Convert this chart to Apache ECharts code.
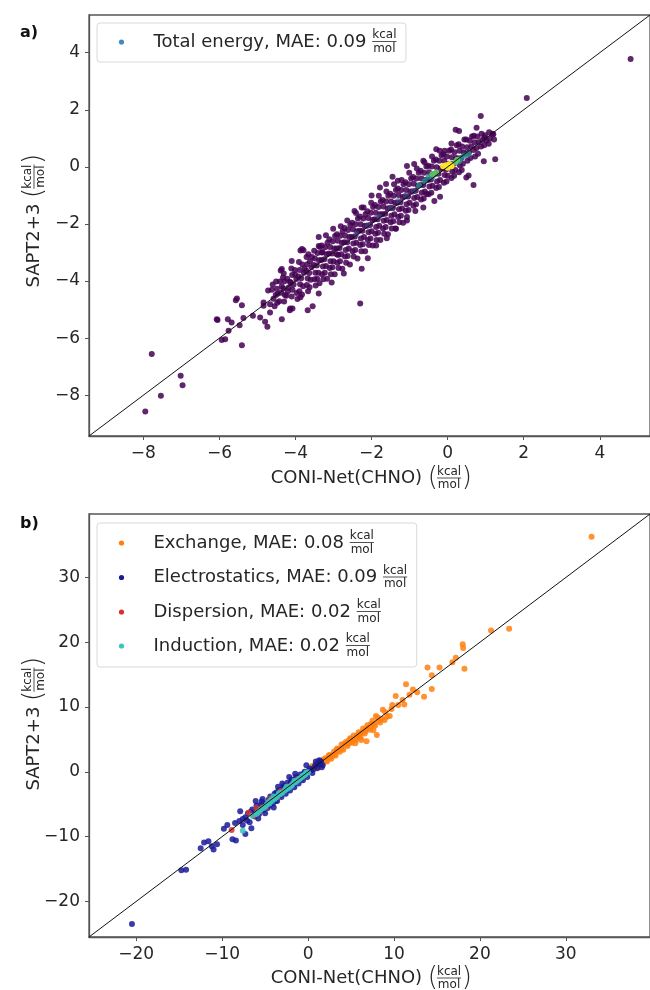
<!DOCTYPE html>
<html>
<head>
<meta charset="utf-8">
<script src="https://cdn.jsdelivr.net/npm/echarts@6.0.0/dist/echarts.min.js"></script>
<style>
  html, body { margin: 0; padding: 0; background: #fff; }
  #chart { width: 650px; height: 990px; }
</style>
</head>
<body>
<div id="chart"></div>
<script>
// axis limits and ticks
var limA = [-9.43, 5.32];
var ticksA = [-8, -6, -4, -2, 0, 2, 4];
var limB = [-25.5, 39.8];
var ticksB = [-20, -10, 0, 10, 20, 30];

var totalLabel = 'Total energy, MAE: 0.09';
var compLabels = ['Exchange, MAE: 0.08', 'Electrostatics, MAE: 0.09', 'Dispersion, MAE: 0.02', 'Induction, MAE: 0.02'];
var compColors = ['#ff7f0e', '#1a1a96', '#dc2f2f', '#3cc4b8'];

// panel a) total energy, [CONI-Net, SAPT2+3]
var totalOutliers = [[4.81,3.78],[2.08,2.41],[0.87,1.78],[-7.78,-6.56],[-7.02,-7.32],[-6.97,-7.65],[-7.54,-8.02],[-7.95,-8.57],
  [-6.07,-5.34],[-5.54,-4.61],[-5.41,-4.85],[-5.78,-5.34],[-5.68,-5.45],[-5.47,-5.55],[-5.76,-5.74],[-5.94,-6.07],[-5.85,-6.04],
  [-5.41,-6.25],[-5.37,-5.3],[-5.12,-5.22],[-4.93,-5.28],[-4.8,-5.43],[-4.74,-5.6],[-4.84,-4.87],[-4.84,-4.75],[-4.67,-4.81],
  [-4.67,-5.1],[-4.36,-5.34],[-4.36,-3.58],[-4.14,-4.96],[-4.08,-4.96],[-2.3,-4.79],[1.25,0.27],[0.68,-0.64],[0.49,-0.37],
  [0.3,1.26],[0.21,1.3],[0.76,1.37],[0.97,1.02],[1.2,1.14],[-3.83,-2.88],[-3.66,-3.06],[-3.39,-2.77],[-3.31,-3.0],[-2.92,-3.06],
  [-1.78,-0.72],[-1.62,-0.6],[-1.31,-0.49],[-1.07,0.03],[-0.88,0.1],[-0.64,0.21],[-0.08,0.56],[-0.3,0.62],[0.1,0.82],
  [-0.55,-0.95],[-0.64,-1.42],[-0.85,-1.55],[-1.07,-1.88],[-1.36,-2.17],[-1.6,-2.5],[-1.88,-2.76],[-2.1,-3.2],[-2.26,-3.57],
  [-2.73,-3.74],[-3.05,-4.05],[-3.39,-4.44],[-3.68,-5.02],[-4.15,-5.02],[-2.26,-1.42],[-2.45,-1.55],[-2.64,-1.88],
  [-3.01,-2.17],[-3.2,-2.4],[-3.39,-2.46],[-3.87,-2.93],[-4.1,-3.3],[-4.39,-3.63],[-4.72,-4.33],[-5.57,-4.67],[-6.05,-5.37],
  [-2.0,-1.0],[-1.45,-0.35],[0.55,-0.3],[0.95,0.2],[-0.2,-1.05],[-0.35,-1.2]];
var totalBand = [
  [-4.62,-4.31],[-4.58,-4.62],[-4.55,-4.88],[-4.6,-4.12],[-4.47,-4.45],[-4.41,-4.02],[-4.38,-4.41],[-4.43,-4.71],[-4.36,-4.19],[-4.33,-3.88],
  [-4.22,-3.92],[-4.18,-4.23],[-4.24,-4.52],[-4.15,-4.03],[-4.2,-4.36],[-4.02,-3.61],[-3.98,-3.93],[-4.05,-4.12],[-3.97,-4.42],[-4.01,-3.77],[-3.95,-4.63],
  [-3.82,-3.42],[-3.78,-3.71],[-3.85,-3.9],[-3.8,-4.18],[-3.76,-3.56],[-3.83,-4.47],[-3.79,-2.92],
  [-3.62,-3.31],[-3.58,-3.52],[-3.64,-3.72],[-3.6,-3.96],[-3.57,-3.16],[-3.63,-4.22],[-3.55,-4.88],
  [-3.42,-3.02],[-3.38,-3.27],[-3.44,-3.46],[-3.4,-3.71],[-3.36,-2.81],[-3.43,-3.92],[-3.37,-4.08],
  [-3.22,-2.82],[-3.18,-3.06],[-3.24,-3.24],[-3.2,-3.47],[-3.16,-2.66],[-3.23,-3.71],[-3.17,-3.92],
  [-3.02,-2.61],[-2.98,-2.86],[-3.04,-3.04],[-3.0,-3.31],[-2.96,-2.42],[-3.03,-3.52],[-2.97,-3.76],
  [-2.82,-2.41],[-2.78,-2.66],[-2.84,-2.84],[-2.8,-3.06],[-2.76,-2.26],[-2.83,-3.31],[-2.77,-3.57],[-2.81,-2.08],
  [-2.62,-2.21],[-2.58,-2.46],[-2.64,-2.64],[-2.6,-2.86],[-2.56,-2.04],[-2.63,-3.12],[-2.57,-3.42],
  [-2.42,-2.01],[-2.38,-2.26],[-2.44,-2.44],[-2.4,-2.66],[-2.36,-1.81],[-2.43,-2.91],[-2.37,-3.21],[-2.41,-1.62],
  [-2.22,-1.81],[-2.18,-2.06],[-2.24,-2.24],[-2.2,-2.46],[-2.16,-1.66],[-2.23,-2.71],[-2.17,-2.96],[-2.21,-1.42],
  [-2.02,-1.61],[-1.98,-1.86],[-2.04,-2.04],[-2.0,-2.26],[-1.96,-1.41],[-2.03,-2.51],[-1.97,-2.76],[-2.01,-1.26],
  [-1.82,-1.41],[-1.78,-1.66],[-1.84,-1.84],[-1.8,-2.06],[-1.76,-1.21],[-1.83,-2.31],[-1.77,-2.56],[-1.81,-1.01],
  [-1.62,-1.21],[-1.58,-1.46],[-1.64,-1.64],[-1.6,-1.86],[-1.56,-1.01],[-1.63,-2.11],[-1.57,-2.36],[-1.61,-0.86],
  [-1.42,-1.01],[-1.38,-1.26],[-1.44,-1.44],[-1.4,-1.66],[-1.36,-0.81],[-1.43,-1.91],[-1.37,-2.16],[-1.41,-0.61],
  [-1.22,-0.81],[-1.18,-1.06],[-1.24,-1.24],[-1.2,-1.46],[-1.16,-0.61],[-1.23,-1.71],[-1.17,-1.96],[-1.21,-0.46],
  [-1.02,-0.61],[-0.98,-0.86],[-1.04,-1.04],[-1.0,-1.26],[-0.96,-0.41],[-1.03,-1.51],[-1.01,-0.21],
  [-0.82,-0.41],[-0.78,-0.66],[-0.84,-0.84],[-0.8,-1.06],[-0.76,-0.21],[-0.83,-1.31],[-0.81,-0.06],
  [-0.62,-0.21],[-0.58,-0.46],[-0.64,-0.64],[-0.6,-0.86],[-0.56,0.01],[-0.63,-1.11],[-0.61,0.16],
  [-0.42,0.01],[-0.38,-0.26],[-0.44,-0.44],[-0.4,-0.66],[-0.36,0.21],[-0.43,-0.91],[-0.41,0.36],
  [-0.22,0.21],[-0.18,-0.06],[-0.24,-0.24],[-0.2,-0.46],[-0.16,0.41],[-0.23,-0.71],[-0.21,0.56],
  [-0.02,0.36],[0.02,0.11],[-0.04,-0.09],[0.0,-0.31],[0.04,0.56],[-0.03,-0.51],
  [0.18,0.51],[0.22,0.31],[0.16,0.11],[0.2,-0.11],[0.24,0.76],[0.17,-0.31],
  [0.38,0.71],[0.42,0.51],[0.36,0.31],[0.4,0.11],[0.44,0.96],[0.37,-0.11],
  [0.58,0.91],[0.62,0.71],[0.56,0.51],[0.6,0.31],[0.64,1.06],
  [0.78,1.06],[0.82,0.86],[0.76,0.66],[0.8,0.46],[0.98,1.11],[1.02,0.91],[0.96,0.76],[1.18,1.16],[1.22,0.96]];
var totalBandInner = [
  [-4.51,-4.02],[-4.49,-4.27],[-4.52,-4.49],[-4.48,-4.76],
  [-4.31,-3.74],[-4.29,-4.01],[-4.32,-4.26],[-4.28,-4.49],[-4.3,-4.72],
  [-4.11,-3.56],[-4.09,-3.79],[-4.12,-4.06],[-4.08,-4.31],[-4.1,-4.54],
  [-3.91,-3.33],[-3.89,-3.61],[-3.92,-3.84],[-3.88,-4.11],[-3.9,-4.36],[-3.87,-4.57],
  [-3.71,-3.16],[-3.69,-3.41],[-3.72,-3.64],[-3.68,-3.91],[-3.7,-4.14],[-3.67,-4.36],
  [-3.51,-2.94],[-3.49,-3.21],[-3.52,-3.44],[-3.48,-3.71],[-3.5,-3.94],[-3.47,-4.16],
  [-3.31,-2.76],[-3.29,-2.99],[-3.32,-3.26],[-3.28,-3.49],[-3.3,-3.76],[-3.27,-3.94],
  [-3.11,-2.54],[-3.09,-2.81],[-3.12,-3.04],[-3.08,-3.31],[-3.1,-3.54],[-3.07,-3.76],
  [-2.91,-2.36],[-2.89,-2.59],[-2.92,-2.86],[-2.88,-3.09],[-2.9,-3.36],[-2.87,-3.54],
  [-2.71,-2.14],[-2.69,-2.41],[-2.72,-2.64],[-2.68,-2.91],[-2.7,-3.14],[-2.67,-3.36],
  [-2.51,-1.96],[-2.49,-2.19],[-2.52,-2.46],[-2.48,-2.69],[-2.5,-2.96],[-2.47,-3.14],
  [-2.31,-1.74],[-2.29,-2.01],[-2.32,-2.24],[-2.28,-2.51],[-2.3,-2.74],[-2.27,-2.96],
  [-2.11,-1.56],[-2.09,-1.79],[-2.12,-2.06],[-2.08,-2.29],[-2.1,-2.56],[-2.07,-2.74],
  [-1.91,-1.34],[-1.89,-1.61],[-1.92,-1.84],[-1.88,-2.11],[-1.9,-2.34],[-1.87,-2.56],
  [-1.71,-1.16],[-1.69,-1.39],[-1.72,-1.66],[-1.68,-1.89],[-1.7,-2.16],[-1.67,-2.34],
  [-1.51,-0.94],[-1.49,-1.21],[-1.52,-1.44],[-1.48,-1.71],[-1.5,-1.94],[-1.47,-2.16],
  [-1.31,-0.76],[-1.29,-0.99],[-1.32,-1.26],[-1.28,-1.49],[-1.3,-1.76],[-1.27,-1.94],
  [-1.11,-0.54],[-1.09,-0.81],[-1.12,-1.04],[-1.08,-1.31],[-1.1,-1.54],[-1.07,-1.76],
  [-0.91,-0.36],[-0.89,-0.59],[-0.92,-0.86],[-0.88,-1.09],[-0.9,-1.36],
  [-0.71,-0.14],[-0.69,-0.41],[-0.72,-0.64],[-0.68,-0.91],[-0.7,-1.14],
  [-0.51,0.04],[-0.49,-0.19],[-0.52,-0.46],[-0.48,-0.69],[-0.5,-0.96],
  [-0.31,0.26],[-0.29,-0.01],[-0.32,-0.24],[-0.28,-0.51],[-0.3,-0.74],
  [-0.11,0.44],[-0.09,0.21],[-0.12,-0.06],[-0.08,-0.29],[-0.1,-0.56],
  [0.09,0.61],[0.11,0.34],[0.08,0.11],[0.12,-0.16],[0.1,-0.39],
  [0.29,0.79],[0.31,0.56],[0.28,0.29],[0.32,0.06],[0.3,-0.19],
  [0.49,0.96],[0.51,0.69],[0.48,0.46],[0.52,0.21],
  [0.69,1.09],[0.71,0.86],[0.68,0.59],[0.72,0.36],
  [0.89,1.16],[0.91,0.94],[0.88,0.71],[1.09,1.21],[1.11,0.99],[1.08,0.81]];
var totalDenseBlue = [[-2.4,-2.35],[-2.1,-2.05],[-1.8,-1.75],[-1.5,-1.45],[-1.3,-1.2],[-1.1,-1.0],[-0.9,-0.85]];
var totalDenseTeal = [[-0.75,-0.65],[-0.6,-0.5],[-0.5,-0.35],[0.35,0.3],[0.45,0.4],[0.55,0.45],[-0.4,-0.35],[0.3,0.2]];
var totalDenseGreen = [[-0.4,-0.25],[-0.3,-0.2],[0.2,0.15],[0.25,0.25]];
var totalDenseYellow = [[-0.12,0.02],[-0.04,0.06],[0.05,0.1],[0.1,0.02],[0.0,-0.03]];

// panel b) components
var exchange = [[0.2,0.4],[0.6,0.5],[0.9,1.3],[1.2,0.8],[1.4,1.7],[1.7,1.2],[2.0,2.1],[2.2,1.6],[2.5,2.6],[2.7,2.0],
  [3.0,3.1],[3.2,2.5],[3.4,3.6],[3.7,3.1],[3.9,4.2],[4.1,3.4],[4.4,4.6],[4.6,4.0],[4.9,5.2],[5.1,4.5],[5.3,5.6],[5.6,4.9],
  [5.9,6.1],[6.1,5.3],[6.4,6.7],[6.6,5.9],[6.9,7.2],[7.2,6.5],[7.5,7.9],[7.8,7.1],[8.1,8.4],[8.4,7.6],[1.0,0.5],[2.4,2.1],
  [3.5,3.3],[4.7,4.8],[5.8,5.7],[6.8,6.6],[7.4,7.2],[8.7,9.6],[7.9,8.6],[8.0,5.7],[6.8,4.7],[9.5,8.6],[9.0,9.2],
  [0.5,0.9],[0.8,0.7],[1.1,1.4],[1.5,1.2],[1.8,1.9],[2.1,1.7],[2.4,2.5],[2.8,2.4],[3.1,2.7],[3.3,3.4],[3.6,3.5],[3.9,3.6],
  [4.2,4.3],[4.5,4.2],[4.8,4.5],[5.0,5.1],[5.4,5.1],[5.7,5.5],[6.0,5.8],[6.3,6.1],[6.7,6.3],[7.0,6.8],[7.3,7.4],[7.7,7.4],
  [8.2,7.9],[8.6,8.2],[9.2,8.5],[8.9,8.0],[7.6,6.4],[6.2,4.9],[5.5,4.4],[9.7,9.7],
  [10.2,11.7],[11.0,11.1],[11.2,10.4],[11.4,13.5],[11.8,11.9],[12.2,12.7],[13.5,11.6],[13.9,16.1],[14.4,14.9],[14.4,12.8],
  [15.3,16.1],[16.8,16.9],[17.2,17.6],[18.0,19.7],[18.05,19.1],[18.2,15.9],[21.3,21.8],[23.4,22.1],[33.0,36.3],[10.5,10.3],
  [12.7,12.3],[9.8,10.3]];
var electrostatics = [[-20.5,-23.5],[-14.75,-15.2],[-14.2,-15.1],[-12.5,-11.8],[-12.1,-10.9],[-11.6,-10.7],[-11.0,-12.0],
  [-10.6,-11.2],[-11.2,-11.5],[-9.8,-8.8],[-8.8,-10.4],[-8.4,-10.6],
  [-8.0,-7.6],[-7.6,-8.2],[-7.3,-7.0],[-7.0,-6.4],[-6.8,-7.8],[-6.5,-5.8],[-6.2,-6.9],[-6.0,-5.2],[-5.7,-6.5],[-5.4,-4.6],
  [-5.2,-5.9],[-4.9,-4.9],[-4.7,-5.6],[-4.4,-3.8],[-4.1,-4.9],[-3.9,-3.4],[-3.6,-4.5],[-3.4,-2.8],[-3.1,-3.9],[-2.9,-2.4],
  [-2.6,-3.4],[-2.4,-1.7],[-2.1,-2.9],[-1.9,-1.2],[-1.6,-2.4],[-1.4,-0.8],[-1.1,-1.8],[-0.9,-0.4],[-0.6,-1.3],[-0.4,0.0],
  [-0.1,-0.8],[0.2,0.5],[0.5,-0.2],[0.8,0.9],[1.1,0.6],[1.4,1.3],[1.7,1.0],[-7.9,-6.1],[-7.3,-9.6],[-6.1,-4.5],[-5.3,-4.2],
  [-4.0,-5.5],[-3.8,-4.5],[-2.2,-0.8],[-1.5,-0.3],[-3.0,-1.8],[-0.2,1.0],[0.9,1.6],[-5.8,-7.2],[-6.6,-8.7],[-7.6,-7.3],
  [-5.0,-6.4],[-2.7,-2.6],[-1.3,-1.3],[0.0,0.1],[1.3,1.8],
  [-7.1,-7.5],[-6.7,-6.2],[-6.4,-6.5],[-5.9,-6.0],[-5.5,-5.1],[-5.1,-5.3],[-4.6,-4.3],[-4.3,-4.6],[-3.7,-3.2],[-3.3,-3.6],
  [-2.8,-2.2],[-2.5,-2.9],[-2.0,-1.6],[-1.7,-2.0],[-1.2,-0.9],[-0.8,-1.1],[-0.5,-0.3],[0.3,0.2],[0.6,0.4],[1.0,1.1],
  [1.5,1.6],[1.6,0.7],[-4.5,-5.2],[-3.5,-2.3],[-8.5,-7.9],[-9.4,-8.2]];
var dispersion = [[-8.9,-9.0],[-6.9,-6.3],[-6.3,-6.8],[-5.3,-5.5],[-4.4,-4.1],[-3.6,-3.9],[-4.9,-5.4],[-6.0,-5.6],
  [-2.8,-2.9],[-2.0,-2.1],[-1.2,-1.1],[-0.6,-0.7],[-5.6,-6.1],[-3.2,-3.0]];
var induction = [[-7.6,-9.1],[-6.0,-6.5],[-5.5,-5.8],[-5.2,-5.6],[-4.8,-5.1],[-4.5,-4.9],[-4.2,-4.5],[-3.9,-4.2],[-3.6,-3.8],
  [-3.3,-3.5],[-3.0,-3.2],[-2.7,-2.9],[-2.4,-2.6],[-2.1,-2.3],[-1.8,-1.9],[-1.5,-1.6],[-1.2,-1.3],[-0.9,-1.0],[-0.6,-0.6],
  [-0.3,-0.35],[0.0,-0.05],[-4.0,-3.8],[-3.4,-3.3],[-2.5,-2.3],[-1.6,-1.4],[-6.5,-6.8],
  [-5.7,-6.1],[-5.0,-5.4],[-4.6,-4.7],[-4.3,-4.3],[-3.8,-4.0],[-3.1,-3.3],[-2.6,-2.7],[-2.2,-2.4],[-1.9,-2.1],[-1.4,-1.5],
  [-1.0,-1.1],[-0.7,-0.8],[-0.4,-0.5],[-0.2,-0.1],[-5.9,-6.3]];

var FAMILY = 'DejaVu Sans';
var ctx = document.createElement('canvas').getContext('2d');
function textW(s, size) {
  ctx.font = size + 'px "' + FAMILY + '"';
  return ctx.measureText(s).width;
}
function txt(s, x, y, size, opts) {
  var st = { text: s, fontSize: size, fontFamily: FAMILY, fill: '#262626', align: 'left', verticalAlign: 'middle' };
  for (var k in (opts || {})) st[k] = opts[k];
  return { type: 'text', x: x, y: y, style: st };
}
// kcal over mol, left edge at x, bar at cy
function frac(x, cy, size) {
  var w = Math.max(textW('kcal', size), textW('mol', size));
  return [
    txt('kcal', x + w / 2, cy - 0.5, size, { align: 'center', verticalAlign: 'bottom' }),
    { type: 'line', shape: { x1: x, y1: cy, x2: x + w, y2: cy }, style: { stroke: '#262626', lineWidth: 0.8 } },
    txt('mol', x + w / 2, cy + 1, size, { align: 'center', verticalAlign: 'top' })
  ];
}
function axisTitle(main) {
  var w1 = textW(main + ' ', 18), wp = textW('(', 26) * 0.85;
  var wf = Math.max(textW('kcal', 12), textW('mol', 12));
  var x0 = -(w1 + wp * 2 + wf) / 2;
  var els = [txt(main, x0, 0, 18),
    txt('(', x0 + w1, 0, 26, { fontWeight: 200 }),
    txt(')', x0 + w1 + wp + wf + 1, 0, 26, { fontWeight: 200 })];
  return els.concat(frac(x0 + w1 + wp + 0.5, 0, 12));
}
function legendEntry(label, color, x, cy) {
  var w = textW(label + ' ', 18);
  return [{ type: 'circle', shape: { cx: x, cy: cy, r: 2.6 }, style: { fill: color } },
    txt(label, x + 32, cy, 18)].concat(frac(x + 32 + w, cy - 0.5, 12));
}
function legendWidth(labels) {
  var m = 0;
  labels.forEach(function (l) { m = Math.max(m, textW(l + ' ', 18)); });
  return 57 + m + textW('kcal', 12) + 9;
}

var axisCommon = function (lim, ticks, gi) {
  return {
    type: 'value', gridIndex: gi, min: lim[0], max: lim[1],
    axisLine: { show: true, onZero: false, lineStyle: { color: '#555', width: 1.3 } },
    axisTick: { show: true, length: 4, customValues: ticks, lineStyle: { color: '#555' } },
    axisLabel: {
      customValues: ticks, margin: 9, fontSize: 17, fontFamily: FAMILY, color: '#262626',
      formatter: function (v) { return String(v).replace('-', '\u2212'); }
    },
    splitLine: { show: false }
  };
};

function scat(name, data, color, xi, op) {
  return { name: name, type: 'scatter', xAxisIndex: xi, yAxisIndex: xi, data: data, symbolSize: 6,
    itemStyle: { color: color, opacity: op || 0.85 } };
}

var graphics = [
  txt('a)', 20, 33, 16, { fontWeight: 'bold', fill: '#111' }),
  txt('b)', 20, 524, 16, { fontWeight: 'bold', fill: '#111' }),
  { type: 'rect', shape: { x: 97, y: 23, width: legendWidth([totalLabel]), height: 39, r: 3 }, style: { fill: '#fff', stroke: '#d9d9d9', lineWidth: 1 }, z: 10 },
  { type: 'rect', shape: { x: 97, y: 523, width: legendWidth(compLabels), height: 144, r: 3 }, style: { fill: '#fff', stroke: '#d9d9d9', lineWidth: 1 }, z: 10 },
  { type: 'group', x: 370, y: 478, children: axisTitle('CONI-Net(CHNO)') },
  { type: 'group', x: 370, y: 978, children: axisTitle('CONI-Net(CHNO)') },
  { type: 'group', x: 34, y: 222, rotation: Math.PI / 2, children: axisTitle('SAPT2+3') },
  { type: 'group', x: 34, y: 725, rotation: Math.PI / 2, children: axisTitle('SAPT2+3') }
];
var legEls = legendEntry(totalLabel, '#3b8bc2', 121.5, 42);
var legY = [543, 577.5, 612, 646];
compLabels.forEach(function (l, i) { legEls = legEls.concat(legendEntry(l, compColors[i], 121.5, legY[i])); });
legEls.forEach(function (e) { e.z = 11; });
graphics = graphics.concat(legEls);

var chart = echarts.init(document.getElementById('chart'));
chart.setOption({
  animation: false,
  backgroundColor: '#fff',
  grid: [
    { left: 89, top: 15, width: 561, height: 421, show: true, borderColor: '#555', borderWidth: 1.3 },
    { left: 89, top: 514, width: 561, height: 423, show: true, borderColor: '#555', borderWidth: 1.3 }
  ],
  xAxis: [axisCommon(limA, ticksA, 0), axisCommon(limB, ticksB, 1)],
  yAxis: [axisCommon(limA, ticksA, 0), axisCommon(limB, ticksB, 1)],
  graphic: graphics,
  series: [
    scat('Total energy', totalOutliers, '#440154', 0),
    scat('Total energy', totalBand, '#440154', 0),
    scat('Total energy', totalBandInner, '#440154', 0),
    scat('dense1', totalDenseBlue, '#3b528b', 0, 0.6),
    scat('dense2', totalDenseTeal, '#21918c', 0, 0.8),
    scat('dense3', totalDenseGreen, '#5ec962', 0, 0.9),
    scat('dense4', totalDenseYellow, '#fde725', 0, 0.95),
    { type: 'line', xAxisIndex: 0, yAxisIndex: 0, data: [[limA[0], limA[0]], [limA[1], limA[1]]], symbol: 'none',
      lineStyle: { color: '#111', width: 1 }, z: 5 },
    scat(compLabels[0], exchange, compColors[0], 1),
    scat(compLabels[1], electrostatics, compColors[1], 1),
    scat(compLabels[2], dispersion, compColors[2], 1),
    scat(compLabels[3], induction, compColors[3], 1),
    { type: 'line', xAxisIndex: 1, yAxisIndex: 1, data: [[limB[0], limB[0]], [limB[1], limB[1]]], symbol: 'none',
      lineStyle: { color: '#111', width: 1 }, z: 5 }
  ]
});
</script>
</body>
</html>
